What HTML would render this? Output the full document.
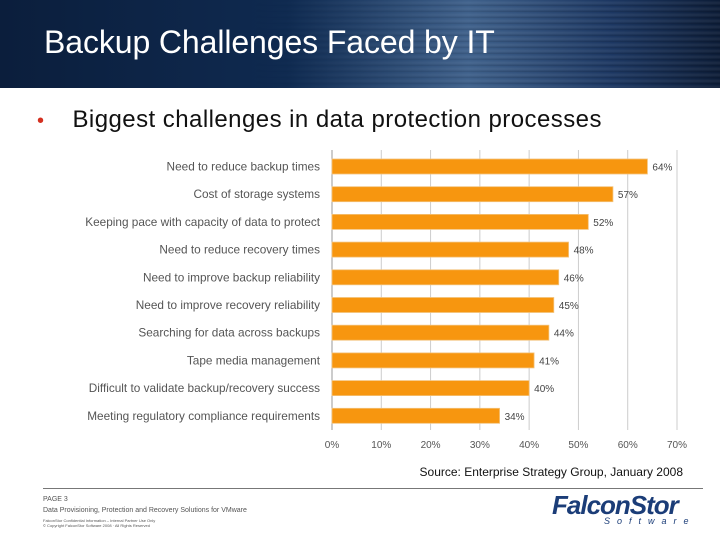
<!DOCTYPE html>
<html><head><meta charset="utf-8"><style>
body{margin:0;width:720px;height:540px;overflow:hidden;background:#fff;font-family:"Liberation Sans",sans-serif;position:relative}
#banner{position:absolute;left:0;top:0;width:720px;height:88px;background:linear-gradient(90deg,#0b1e3c 0%,#0f2a50 40%,#3d5f8a 65%,#1a3560 85%,#0a1a35 100%)}
#stripes{position:absolute;left:0;top:0;width:720px;height:88px;background:repeating-linear-gradient(180deg,rgba(255,255,255,0) 0px,rgba(255,255,255,0.08) 3px,rgba(0,0,0,0.12) 6px);-webkit-mask:linear-gradient(90deg,transparent 35%,#000 70%)}
#title{position:absolute;left:44px;top:24px;color:#fff;font-size:32px;letter-spacing:-0.1px}
#bullet{position:absolute;left:37px;top:106px;font-size:24px;color:#111;letter-spacing:0.45px}
#bullet span{color:#d43020;margin-right:28px;font-size:20px}
#source{position:absolute;right:37px;top:465px;font-size:12px;color:#111}
#rule{position:absolute;left:43px;top:488px;width:660px;height:1px;background:#777}
.small{position:absolute;left:43px;color:#555}
#logo{position:absolute;left:552px;top:490px;font-size:26px;font-weight:bold;font-style:italic;color:#1b3d78;letter-spacing:-1px}
#logo2{position:absolute;left:604px;top:516px;font-size:9px;color:#1b3d78;letter-spacing:7px;font-style:italic}
</style></head><body>
<div id="banner"><div id="stripes"></div></div>
<div id="title">Backup Challenges Faced by IT</div>
<div id="bullet"><span>•</span>Biggest challenges in data protection processes</div>
<svg id="chart" width="720" height="540" style="position:absolute;left:0;top:0"></svg>
<div id="source">Source: Enterprise Strategy Group, January 2008</div>
<div id="rule"></div>
<div class="small" style="top:496px;font-size:7px">PAGE 3</div>
<div class="small" style="top:507px;font-size:7px">Data Provisioning, Protection and Recovery Solutions for VMware</div>
<div class="small" style="top:518px;font-size:4px;line-height:5px">FalconStor Confidential Information – Internal Partner Use Only<br>© Copyright FalconStor Software 2008 · All Rights Reserved</div>
<div id="logo">FalconStor</div>
<div id="logo2">Software</div>
<script>
const categories=["Need to reduce backup times","Cost of storage systems","Keeping pace with capacity of data to protect","Need to reduce recovery times","Need to improve backup reliability","Need to improve recovery reliability","Searching for data across backups","Tape media management","Difficult to validate backup/recovery success","Meeting regulatory compliance requirements"];
const values=[64,57,52,48,46,45,44,41,40,34];
const ticks=[0,10,20,30,40,50,60,70];
const svg=document.getElementById('chart');
const NS='http://www.w3.org/2000/svg';
const x0=332,x1=677,yTop=153,yBot=430;
const xs=v=>x0+(v/70)*(x1-x0);
const step=(yBot-yTop)/categories.length;
const yb=i=>yTop+i*step;
function mk(t,a){const e=document.createElementNS(NS,t);for(const k in a)e.setAttribute(k,a[k]);svg.appendChild(e);return e;}
ticks.forEach(t=>{
 const g=mk('line',{x1:xs(t),x2:xs(t),y1:150,y2:yBot,stroke:t===0?'#999':'#ccc','stroke-width':1});
 
 
 const l=mk('text',{x:xs(t),y:448,'text-anchor':'middle','font-size':10,fill:'#555','font-family':'Liberation Sans, sans-serif'});
 l.textContent=t+'%';
 
 
});
categories.forEach((c,i)=>{
 const y=yb(i)+6;
 const r=mk('rect',{x:x0,y:y,width:xs(values[i])-x0,height:15,fill:'#f7960f',stroke:'#f3c27a','stroke-width':0.8});
 
 
 const v=mk('text',{x:xs(values[i])+5,y:y+11.5,'font-size':10,fill:'#444','font-family':'Liberation Sans, sans-serif'});
 v.textContent=values[i]+'%';
 
 
 const t=mk('text',{x:320,y:y+11.5,'text-anchor':'end','font-size':11.8,fill:'#555','font-family':'Liberation Sans, sans-serif'});
 t.textContent=c;
 
 
});
</script>
</body></html>
